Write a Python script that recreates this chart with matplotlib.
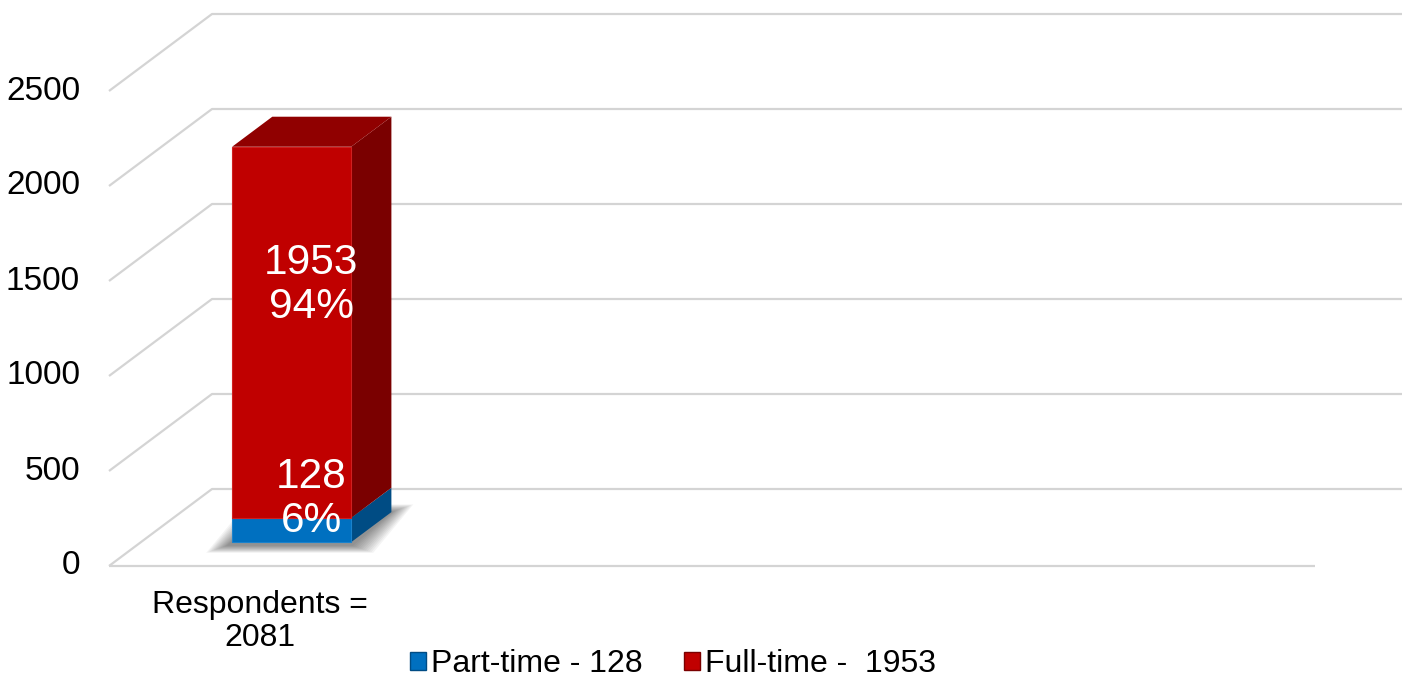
import numpy as np
import matplotlib.pyplot as plt
from matplotlib.patches import Polygon, Patch

plt.rcParams['font.family'] = ['Liberation Sans', 'DejaVu Sans']

# data
categories = ['Respondents =\n2081']
series_names = ['Part-time - 128', 'Full-time -  1953']
part_time = [128]
full_time = [1953]
y_ticks = [0, 500, 1000, 1500, 2000, 2500]

front_colors = ['#0070C0', '#C00000']
side_colors = ['#004C84', '#7A0000']
top_colors = ['#005A9A', '#900000']
edge_colors = ['#1A82CC', '#D02020']

# pseudo-3d frame: axes run in category units (x) and values (y)
W, H = 1402, 678
PX_U = 301.5          # pixels per category slot
PX_V = 0.19           # pixels per unit value
X0, Y0 = 109, 566     # front corner of the floor, in pixels
n_slots = 4
DX = 103 / PX_U       # shift of the back wall along x
DV = 77 / PX_V        # shift of the back wall along y
d0, d1 = 0.31, 0.70   # bar depth (front face, back face)
bar_w = 0.395

fig = plt.figure(figsize=(W / 100, H / 100), dpi=100)
ax = fig.add_axes([0, 0, 1, 1])
ax.set_xlim(-X0 / PX_U, (W - X0) / PX_U)
ax.set_ylim(-(H - Y0) / PX_V, Y0 / PX_V)
ax.axis('off')


def proj(u, v, d):
    return u + DX * d, v + DV * d


grid_kw = dict(color='#D4D4D4', lw=1.6, solid_capstyle='butt', zorder=1)
for t in y_ticks:
    pts = [proj(0, t, 0), proj(0, t, 1), proj(n_slots + 0.2, t, 1)]
    ax.plot(*zip(*pts), **grid_kw)
    ax.annotate(f'{t}', xy=proj(0, t, 0), xytext=(-29, 0),
                textcoords='offset pixels', ha='right', va='center',
                fontsize=24, color='black')
ax.plot(*zip(proj(0, 0, 0), proj(n_slots, 0, 0)), **grid_kw)

parts = [np.array(part_time), np.array(full_time)]
totals = parts[0] + parts[1]
centers = np.arange(len(categories)) + 0.5

# soft shadow on the floor under each bar, built from fading layers
n_layers = 12
for c in centers:
    for k in range(n_layers):
        e = 22 * (n_layers - k) / n_layers
        eu, ev = e / PX_U, e * 0.35 / PX_V
        ul = c - bar_w / 2 - eu - 4 / PX_U
        ur = c + bar_w / 2 + eu
        foot = [proj(ul, -ev - 3 / PX_V, d0), proj(ur, -ev - 3 / PX_V, d0),
                proj(ur, ev, d1), proj(ul, ev, d1)]
        ax.add_patch(Polygon(foot, closed=True, color='black', alpha=0.045,
                             lw=0, zorder=2))

label_lift = [16, 33]
bottom = np.zeros(len(categories))
for s, vals in enumerate(parts):
    top = bottom + vals
    ax.bar(centers + DX * d0, vals, bottom=bottom + DV * d0, width=bar_w,
           color=front_colors[s], edgecolor=edge_colors[s], lw=0.8, zorder=4)
    for i, c in enumerate(centers):
        ur = c + bar_w / 2
        ul = c - bar_w / 2
        side = [proj(ur, bottom[i], d0), proj(ur, top[i], d0),
                proj(ur, top[i], d1), proj(ur, bottom[i], d1)]
        ax.add_patch(Polygon(side, closed=True, color=side_colors[s], lw=0,
                             zorder=3))
        if s == len(parts) - 1:
            lid = [proj(ul, top[i], d0), proj(ur, top[i], d0),
                   proj(ur, top[i], d1), proj(ul, top[i], d1)]
            ax.add_patch(Polygon(lid, closed=True, color=top_colors[s], lw=0,
                                 zorder=3))
        mid = proj(c, (bottom[i] + top[i]) / 2, 0.5)
        pct = round(100 * vals[i] / totals[i])
        ax.annotate(f'{vals[i]}', xy=mid, xytext=(0, label_lift[s] + 22),
                    textcoords='offset pixels', ha='center', va='center',
                    fontsize=30.5, color='white', zorder=6)
        ax.annotate(f'{pct}%', xy=mid, xytext=(0, label_lift[s] - 22),
                    textcoords='offset pixels', ha='center', va='center',
                    fontsize=30.5, color='white', zorder=6)
    bottom = top

for c, name in zip(centers, categories):
    line1, line2 = name.split('\n')
    ax.annotate(line1, xy=proj(c, 0, 0), xytext=(0, -39),
                textcoords='offset pixels', ha='center', va='center',
                fontsize=23)
    ax.annotate(line2, xy=proj(c, 0, 0), xytext=(0, -72),
                textcoords='offset pixels', ha='center', va='center',
                fontsize=23)

handles = [Patch(facecolor=front_colors[s], edgecolor=side_colors[s], lw=1.0,
                 label=series_names[s]) for s in range(2)]
ax.legend(handles=handles, loc='center', bbox_to_anchor=(673 / W, 1 - 664 / H),
          ncol=2, frameon=False, fontsize=23, handlelength=0.5,
          handleheight=0.5, handletextpad=0.15, columnspacing=1.3,
          borderpad=0)

fig.savefig('out.png', dpi=100)
